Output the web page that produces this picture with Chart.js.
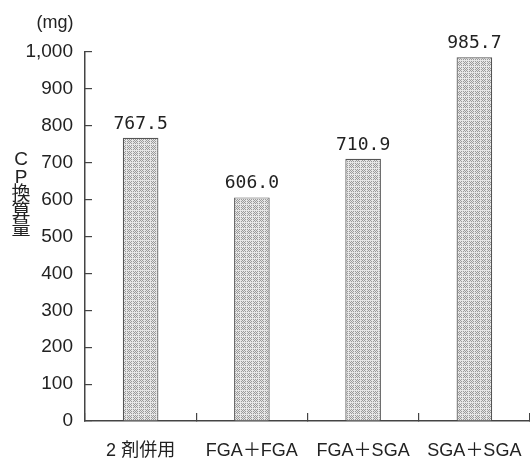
<!DOCTYPE html>
<html>
<head>
<meta charset="utf-8">
<script src="https://cdn.jsdelivr.net/npm/chart.js@4/dist/chart.umd.min.js"></script>
<style>
  html, body { margin: 0; padding: 0; background: #fff; }
  #wrap { width: 530px; height: 458px; }
</style>
</head>
<body>
<div id="wrap"><canvas id="grafico"></canvas></div>
<script>
// datos
const categorias = ['2 剤併用', 'FGA＋FGA', 'FGA＋SGA', 'SGA＋SGA'];
const valores = [767.5, 606.0, 710.9, 985.7];
const unidad = '(mg)';
const tituloY = ['C', 'P', '換', '算', '量'];

const fuente = '"Liberation Sans", "Noto Sans CJK JP", sans-serif';

// patron punteado para las barras
const crearPatron = () => {
    const c = document.createElement('canvas');
    c.width = 6; c.height = 6;
    const g = c.getContext('2d');
    g.fillStyle = '#e6e6e6';
    g.fillRect(0, 0, 6, 6);
    g.fillStyle = '#9a9a9a';
    for (let y = 1; y < 6; y++) {
        for (let x = 1; x < 6; x++) {
            if ((x + y) % 2 === 0) g.fillRect(x, y, 1, 1);
        }
    }
    return g.createPattern(c, 'repeat');
};

// etiquetas de valor y textos sueltos
const textosExtra = {
    id: 'textosExtra',
    afterDatasetsDraw(chart) {
        const { ctx } = chart;
        const meta = chart.getDatasetMeta(0);
        ctx.save();
        ctx.fillStyle = '#222';
        ctx.textAlign = 'center';
        ctx.textBaseline = 'alphabetic';
        ctx.font = '18px "DejaVu Sans Mono", monospace';
        meta.data.forEach((barra, i) => {
            ctx.fillText(valores[i].toFixed(1), barra.x, barra.y - 9);
        });
        ctx.font = '18px ' + fuente;
        ctx.textBaseline = 'middle';
        ctx.fillText(unidad, 55, 23);
        ctx.font = '19px ' + fuente;
        tituloY.forEach((t, i) => {
            ctx.fillText(t, 21, 160 + i * 17.5);
        });
        ctx.restore();
    }
};

const chartConfiguracion = {
    type: 'bar',
    data: {
        labels: categorias,
        datasets: [{
            data: valores,
            backgroundColor: crearPatron(),
            borderColor: '#555',
            borderWidth: 1.2,
            barPercentage: 0.64,
            categoryPercentage: 0.5
        }]
    },
    options: {
        responsive: true,
        maintainAspectRatio: false,
        animation: false,
        layout: { padding: { top: 52, right: -3, left: 0, bottom: 0 } },
        plugins: {
            legend: { display: false },
            tooltip: { enabled: false }
        },
        scales: {
            x: {
                afterFit: (s) => {
                    s.height = 37;
                    s.paddingLeft = 0;
                    s.paddingRight = 0;
                },
                grid: {
                    drawOnChartArea: false,
                    tickLength: -8,
                    color: '#444',
                    lineWidth: 1.2
                },
                border: { color: '#444', width: 1.5 },
                ticks: {
                    padding: 27,
                    color: '#222',
                    font: { family: fuente, size: 18 }
                }
            },
            y: {
                min: 0,
                max: 1000,
                afterFit: (s) => { s.width = 85; s.paddingTop = 0; s.paddingBottom = 0; },
                grid: {
                    drawOnChartArea: false,
                    tickLength: -7,
                    color: '#444',
                    lineWidth: 1.2
                },
                border: { color: '#444', width: 1.5 },
                ticks: {
                    stepSize: 100,
                    padding: 19,
                    color: '#222',
                    font: { family: fuente, size: 19 },
                    callback: (v) => v.toLocaleString('en-US')
                }
            }
        }
    },
    plugins: [textosExtra]
};

new Chart(document.querySelector('#grafico'), chartConfiguracion);
</script>
</body>
</html>
